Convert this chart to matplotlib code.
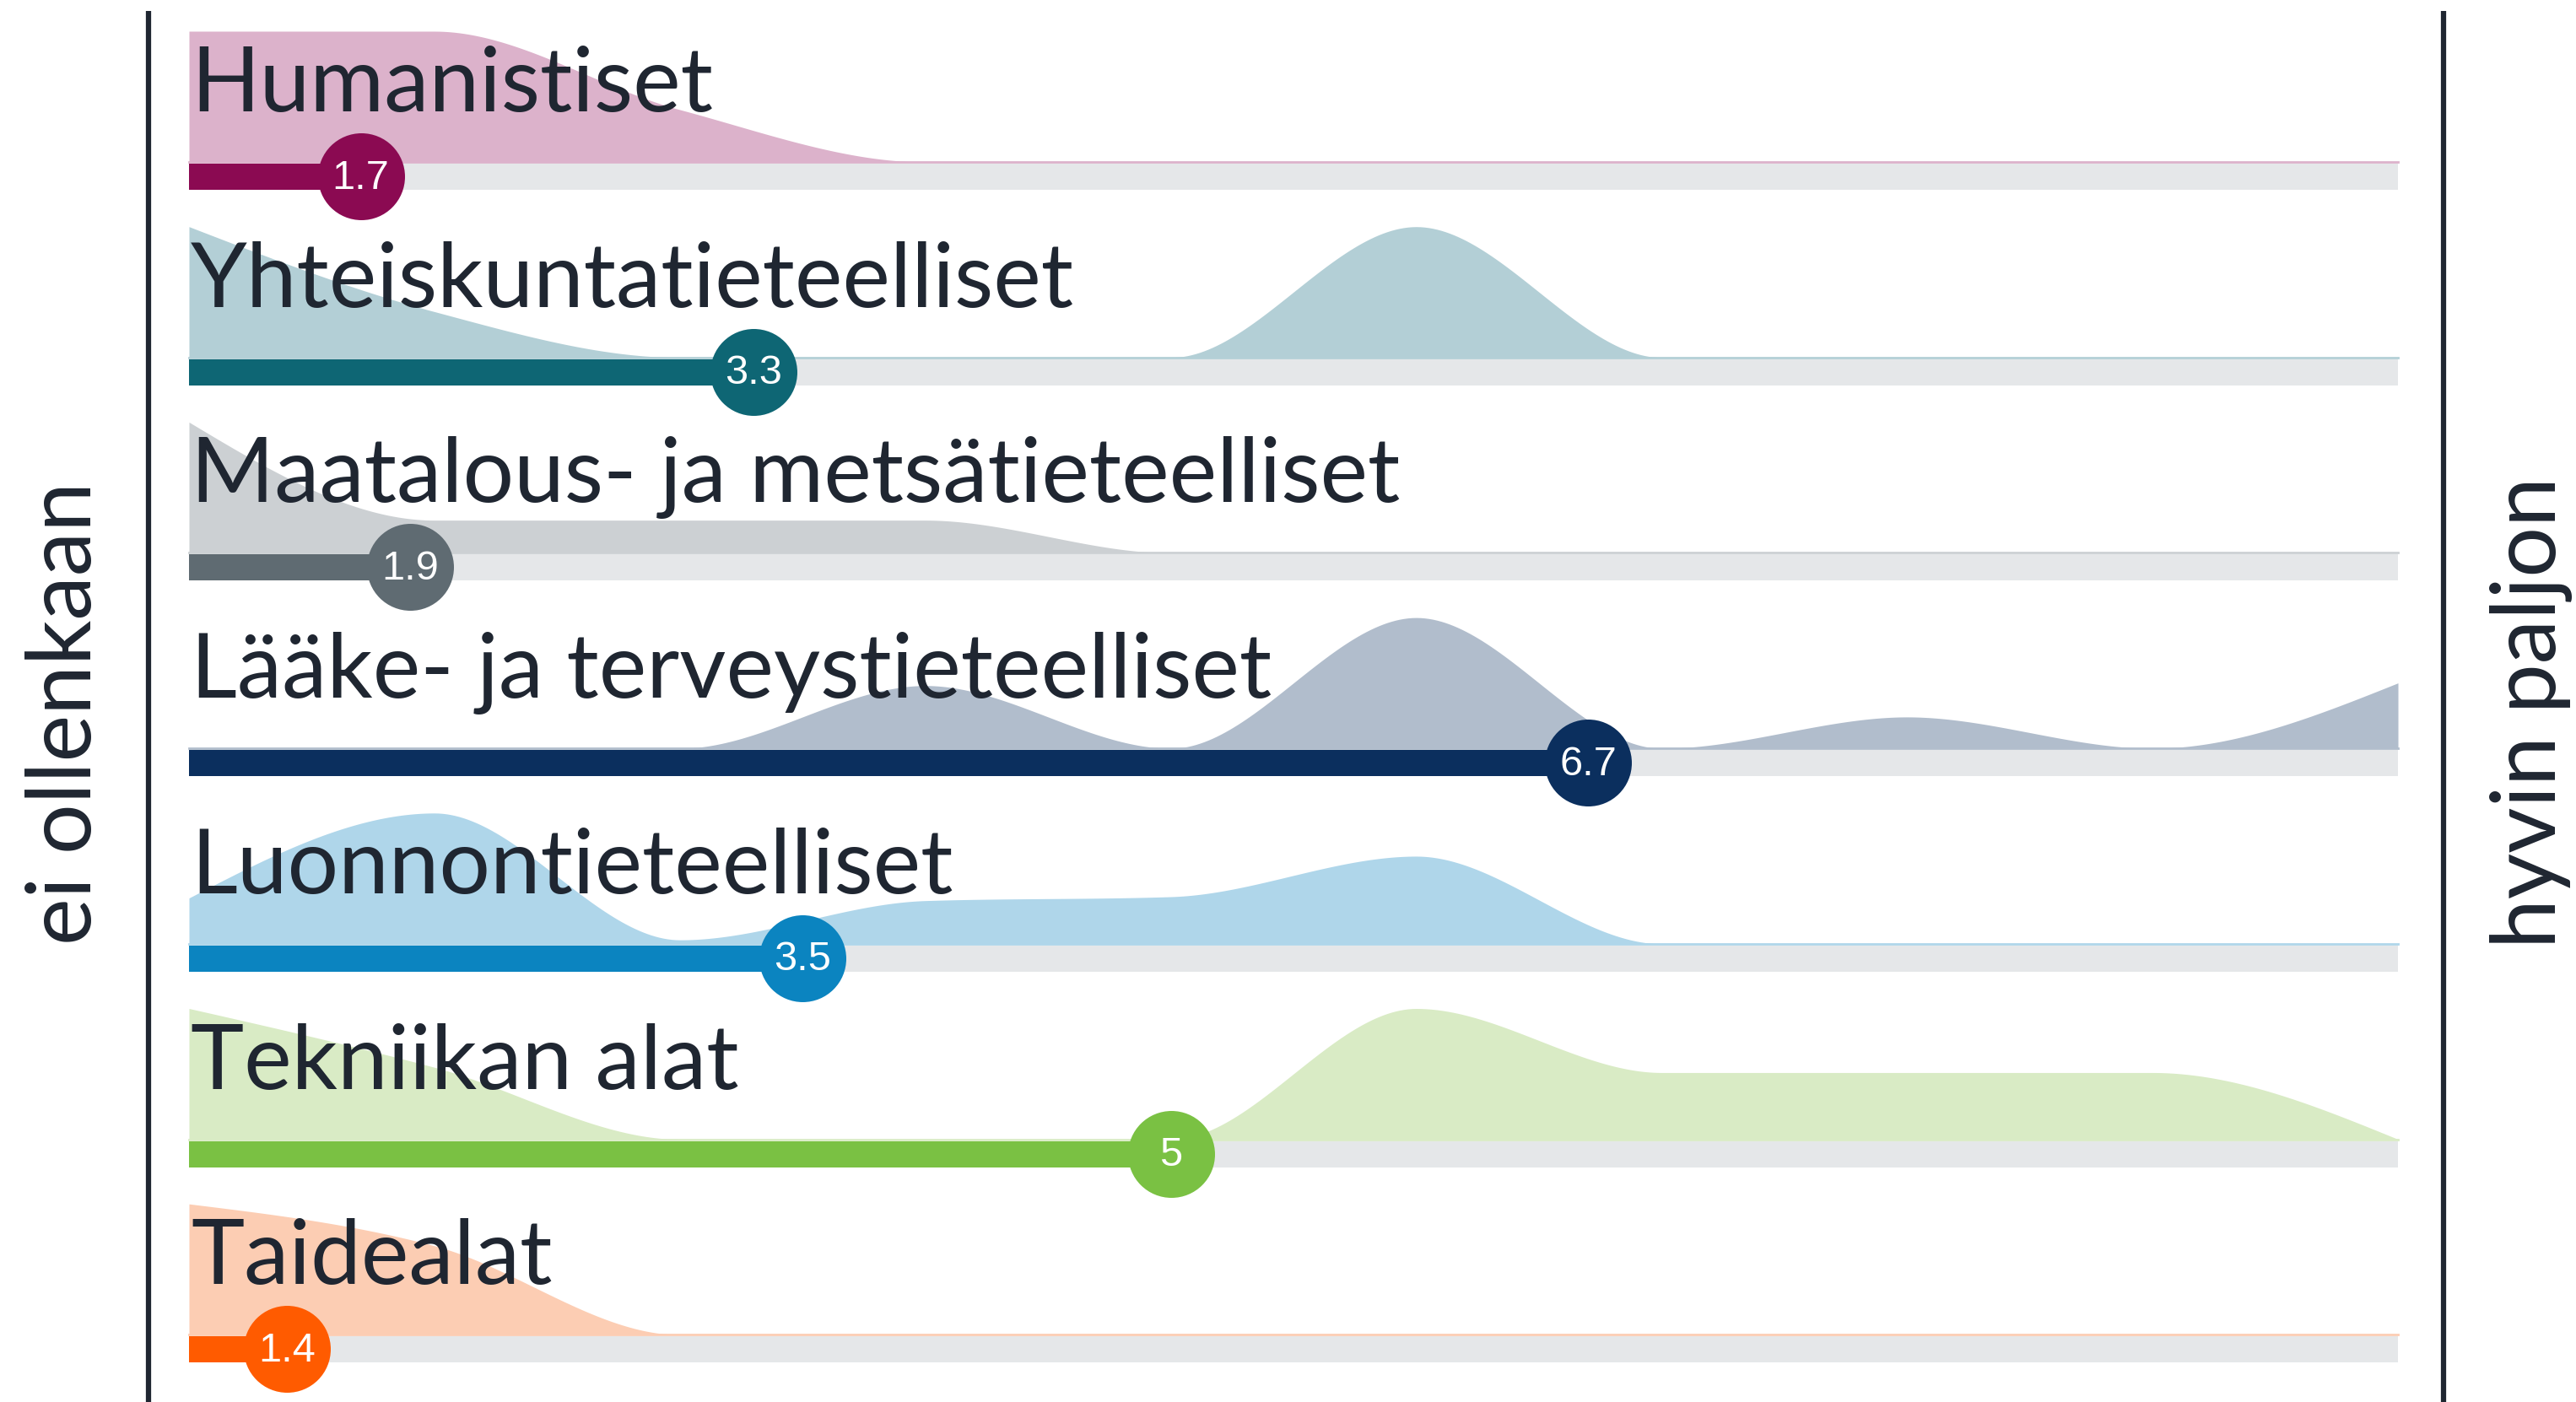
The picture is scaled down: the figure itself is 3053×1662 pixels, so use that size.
import numpy as np
import matplotlib.pyplot as plt
from matplotlib.patches import Rectangle

# rows, top to bottom
categories = ["Humanistiset", "Yhteiskuntatieteelliset", "Maatalous- ja metsätieteelliset",
              "Lääke- ja terveystieteelliset", "Luonnontieteelliset", "Tekniikan alat", "Taidealat"]
means = [1.7, 3.3, 1.9, 6.7, 3.5, 5, 1.4]
mean_labels = ["1.7", "3.3", "1.9", "6.7", "3.5", "5", "1.4"]

# answer scale 1..10 and relative share of answers per point (row max = 1)
scale_points = [1, 2, 3, 4, 5, 6, 7, 8, 9, 10]
dist_hum = [1.0, 1.0, 0.4, 0, 0, 0, 0, 0, 0, 0]
dist_yht = [1.0, 0.35, 0.0, 0, 0, 1.0, 0, 0, 0, 0]
dist_maa = [1.0, 0.25, 0.25, 0.25, 0, 0, 0, 0, 0, 0]
dist_laa = [0, 0, 0, 0.48, 0, 1.0, 0, 0.24, 0, 0.5]
dist_luo = [0.35, 1.0, 0.03, 0.33, 0.36, 0.67, 0, 0, 0, 0]
dist_tek = [1.0, 0.55, 0, 0, 0, 1.0, 0.51, 0.51, 0.51, 0]
dist_tai = [1.0, 0.68, 0, 0, 0, 0, 0, 0, 0, 0]
distributions = [dist_hum, dist_yht, dist_maa, dist_laa, dist_luo, dist_tek, dist_tai]

strong_colors = ["#8b0a52", "#0e6674", "#5f6b72", "#0b2f5e", "#0b84c0", "#7ac143", "#ff5b00"]
light_colors = ["#dcb2cb", "#b3cfd6", "#ccd0d3", "#b1bdcc", "#afd6ea", "#d9ebc5", "#fccdb3"]
track_color = "#e5e7e9"
text_color = "#1f2631"

left_label = "ei ollenkaan"
right_label = "hyvin paljon"


def monotone_curve(x, y, n=60):
    """Monotone cubic interpolation (same rule as d3 curveMonotoneX)."""
    x = np.asarray(x, float)
    y = np.asarray(y, float)
    h = np.diff(x)
    s = np.diff(y) / h
    t = np.zeros_like(y)
    for i in range(1, len(y) - 1):
        s0, s1 = s[i - 1], s[i]
        p = (s0 * h[i] + s1 * h[i - 1]) / (h[i - 1] + h[i])
        t[i] = (np.sign(s0) + np.sign(s1)) * min(abs(s0), abs(s1), 0.5 * abs(p))
    t[0] = (3 * s[0] - t[1]) / 2
    t[-1] = (3 * s[-1] - t[-2]) / 2
    xs, ys = [], []
    for i in range(len(x) - 1):
        u = np.linspace(0, 1, n)
        h00 = 2 * u**3 - 3 * u**2 + 1
        h10 = u**3 - 2 * u**2 + u
        h01 = -2 * u**3 + 3 * u**2
        h11 = u**3 - u**2
        xs.append(x[i] + u * h[i])
        ys.append(h00 * y[i] + h10 * h[i] * t[i] + h01 * y[i + 1] + h11 * h[i] * t[i + 1])
    return np.concatenate(xs), np.clip(np.concatenate(ys), 0, None)


W, H = 3053, 1662
fig = plt.figure(figsize=(W / 100, H / 100), dpi=100)
ax = fig.add_axes([0, 0, 1, 1])

# x in scale units (1 -> 224 px, 10 -> 2842 px), y in pixels from the top
x0_px, unit_px = 224, (2842 - 224) / 9
ax.set_xlim(1 - x0_px / unit_px, 1 + (W - x0_px) / unit_px)
ax.set_ylim(H, 0)
ax.axis("off")

row_top, row_step, ridge_h = 192, 231.7, 155

for i, cat in enumerate(categories):
    base = row_top + i * row_step
    xs, ys = monotone_curve(scale_points, distributions[i])
    ax.fill_between(xs, base, base - ys * ridge_h, color=light_colors[i], lw=0, zorder=1)
    ax.plot([scale_points[0], scale_points[-1]], [base, base], color=light_colors[i], lw=2, zorder=1)
    ax.add_patch(Rectangle((scale_points[0], base + 2), scale_points[-1] - scale_points[0], 31,
                           color=track_color, lw=0, zorder=2))
    ax.add_patch(Rectangle((scale_points[0], base + 2), means[i] - scale_points[0], 31,
                           color=strong_colors[i], lw=0, zorder=3))
    ax.scatter([means[i]], [base + 17], s=5500, color=strong_colors[i], lw=0, zorder=4)
    ax.text(means[i], base + 19, mean_labels[i], color="white", fontsize=35,
            family="Liberation Sans", ha="center", va="center", zorder=5)
    ax.text(scale_points[0] + 2 / unit_px, base - 60, cat, color=text_color, fontsize=77,
            family="Lato", ha="left", va="baseline", zorder=6)

# end lines and end labels
for px in (176, 2896):
    v = 1 + (px - x0_px) / unit_px
    ax.plot([v, v], [13, H], color=text_color, lw=4.5, solid_capstyle="butt", zorder=6)

fig.text(78 / W, 1 - 845 / H, left_label, rotation=90, ha="center", va="center",
         fontsize=76, family="Lato", color=text_color)
fig.text(3000 / W, 1 - 845 / H, right_label, rotation=90, ha="center", va="center",
         fontsize=76, family="Lato", color=text_color)

fig.savefig("out.png", dpi=100, facecolor="white")
